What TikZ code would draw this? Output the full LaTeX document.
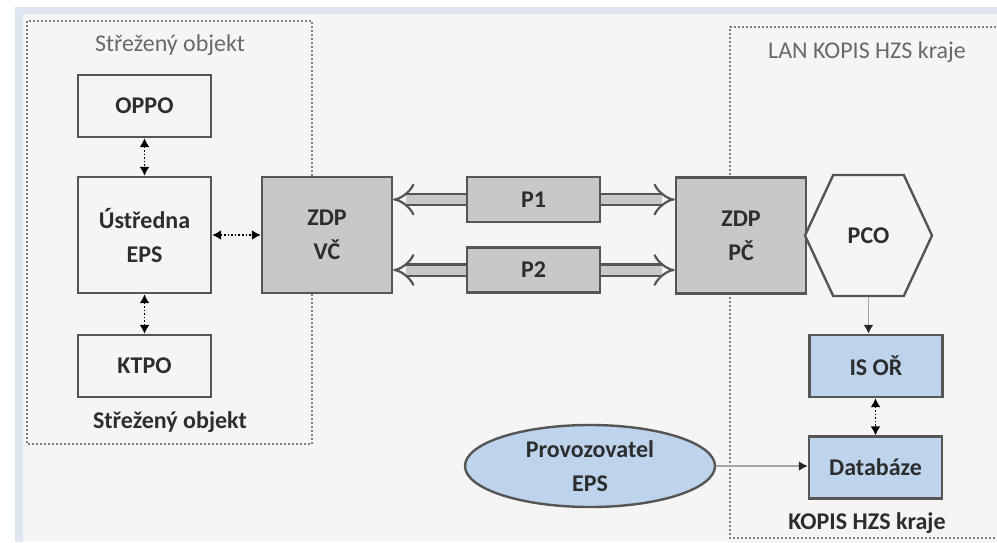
\documentclass[tikz,border=0pt]{standalone}
\usepackage{fontspec}
\setmainfont{Carlito}
\usepackage{tikz}
\usetikzlibrary{arrows.meta,shapes.geometric,shapes.symbols,positioning}

\definecolor{bg}{RGB}{245,245,245}
\definecolor{strip}{RGB}{222,230,242}
\definecolor{zdpgray}{RGB}{200,200,200}
\definecolor{boxblue}{RGB}{189,212,236}
\definecolor{edgegray}{RGB}{85,85,85}
\definecolor{txt}{RGB}{45,45,45}
\definecolor{lbl}{RGB}{105,105,105}

\tikzset{
  box/.style={rectangle, draw=edgegray, line width=1.2pt, fill=bg, inner sep=0pt,
    minimum width=66.5pt, minimum height=31pt, text=txt, align=center,
    font=\bfseries\fontsize{12}{17}\selectfont},
  zdp/.style={box, fill=zdpgray, minimum width=65pt, minimum height=58pt},
  chan/.style={box, fill=zdpgray, minimum height=22.5pt},
  bluebox/.style={box, fill=boxblue},
  region/.style={draw=gray, densely dotted, line width=1pt},
  toplabel/.style={text=lbl, font=\fontsize{12}{14}\selectfont},
  botlabel/.style={text=txt, font=\bfseries\fontsize{12}{14}\selectfont},
  both/.style={{Latex[length=4.5pt,width=5pt]}-{Latex[length=4.5pt,width=5pt]},
    densely dotted, line width=0.8pt, draw=black},
  feed/.style={-{Latex[length=4.5pt,width=5pt,color=black!85]}, draw=gray!70,
    line width=0.9pt},
  pipe/.style={-{Implies}, draw=edgegray, line width=1.1pt, double=zdpgray,
    double distance=4.5pt}
}

\begin{document}
\begin{tikzpicture}[x=0.5pt, y=-0.5pt]
    \useasboundingbox (0,0) rectangle (997,542);
    \fill[white] (0,0) rectangle (997,542);
    \fill[strip] (15,7) rectangle (997,542);
    \fill[bg] (23,14) rectangle (997,542);

    % guarded building and regional centre
    \draw[region] (27,21) rectangle (312,444);
    \draw[region] (1000,27) -- (730,27) -- (730,538) -- (1000,538);

    \node[toplabel] at (170,45) (objtop){Střežený objekt};
    \node[botlabel] at (170,422) (objbot){Střežený objekt};
    \node[toplabel] at (867,52) (lantop){LAN KOPIS HZS kraje};
    \node[botlabel] at (867,523) (kopisbot){KOPIS HZS kraje};

    \node[box] at (144.5,106) (oppo){OPPO};
    \node[box, minimum height=58pt] at (144.5,235) (ustredna){Ústředna\\EPS};
    \node[box] at (144.5,366) (ktpo){KTPO};
    \node[zdp] at (327,235) (vc){ZDP\\VČ};
    \node[chan] at (533.5,199.5) (p1){P1};
    \node[chan] at (533.5,270) (p2){P2};
    \node[zdp] at (741,235.5) (pc){ZDP\\PČ};
    \node[box, signal, signal to=west and east, signal pointer angle=130,
      minimum width=63.5pt, minimum height=60.5pt] at (868.5,235.5) (pco){PCO};
    \node[bluebox] at (876,366) (isor){IS OŘ};
    \node[bluebox] at (875.5,467.5) (db){Databáze};
    \node[bluebox, ellipse, minimum width=125pt, minimum height=41pt]
      at (590,466) (prov){Provozovatel\\EPS};

    \draw[both] (oppo) -- (ustredna);
    \draw[both] (ustredna) -- (ktpo);
    \draw[both] (ustredna) -- (vc);
    \draw[both] (isor.south -| db.north) -- (db.north);

    \draw[pipe] (p1.west) -- (p1.west -| vc.east);
    \draw[pipe] (p1.east) -- (p1.east -| pc.west);
    \draw[pipe] (p2.west) -- (p2.west -| vc.east);
    \draw[pipe] (p2.east) -- (p2.east -| pc.west);

    \draw[feed] (pco.south) -- (pco.south |- isor.north);
    \draw[feed] (prov) -- (prov -| db.west);
\end{tikzpicture}
\end{document}
